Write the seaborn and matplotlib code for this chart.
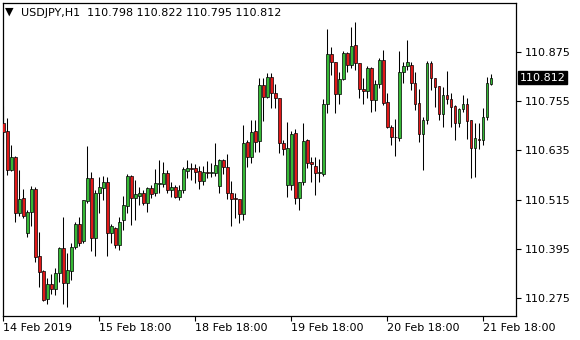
import numpy as np
import pandas as pd
import matplotlib
matplotlib.use("Agg")
import matplotlib.pyplot as plt
import matplotlib.transforms as mtransforms
import seaborn as sns

symbol = "USDJPY,H1"

opens = [110.702, 110.682, 110.587, 110.619, 110.482, 110.519, 110.434, 110.485, 110.541, 110.377,
         110.341, 110.273, 110.309, 110.297, 110.336, 110.397, 110.312, 110.341, 110.399, 110.455,
         110.414, 110.512, 110.568, 110.421, 110.531, 110.543, 110.558, 110.434, 110.446, 110.404,
         110.465, 110.499, 110.573, 110.519, 110.524, 110.531, 110.507, 110.543, 110.531, 110.553,
         110.553, 110.580, 110.538, 110.546, 110.521, 110.538, 110.585, 110.592, 110.592, 110.585,
         110.560, 110.582, 110.580, 110.580, 110.548, 110.612, 110.595, 110.531, 110.519, 110.516,
         110.480, 110.656, 110.619, 110.682, 110.658, 110.795, 110.765, 110.814, 110.775, 110.763,
         110.653, 110.551, 110.551, 110.677, 110.519, 110.558, 110.660, 110.607, 110.597, 110.580,
         110.577, 110.748, 110.870, 110.851, 110.773, 110.809, 110.873, 110.843, 110.892, 110.848,
         110.785, 110.780, 110.836, 110.758, 110.797, 110.856, 110.753, 110.692, 110.668, 110.665,
         110.826, 110.841, 110.843, 110.799, 110.751, 110.675, 110.709, 110.848, 110.812, 110.792,
         110.724, 110.770, 110.760, 110.743, 110.702, 110.736, 110.748, 110.709, 110.641, 110.663,
         110.660, 110.716, 110.798]
highs = [110.743, 110.714, 110.648, 110.621, 110.587, 110.541, 110.490, 110.548, 110.546, 110.436,
         110.343, 110.324, 110.333, 110.348, 110.399, 110.473, 110.385, 110.409, 110.460, 110.473,
         110.514, 110.646, 110.582, 110.538, 110.570, 110.573, 110.570, 110.455, 110.448, 110.473,
         110.524, 110.577, 110.575, 110.563, 110.546, 110.538, 110.546, 110.551, 110.590, 110.612,
         110.607, 110.587, 110.558, 110.551, 110.551, 110.595, 110.612, 110.604, 110.602, 110.597,
         110.597, 110.609, 110.604, 110.653, 110.614, 110.614, 110.626, 110.560, 110.531, 110.516,
         110.697, 110.660, 110.709, 110.709, 110.812, 110.812, 110.824, 110.824, 110.797, 110.763,
         110.660, 110.704, 110.682, 110.687, 110.558, 110.702, 110.663, 110.619, 110.619, 110.614,
         110.760, 110.931, 110.887, 110.851, 110.826, 110.877, 110.875, 110.936, 110.948, 110.848,
         110.812, 110.841, 110.838, 110.807, 110.860, 110.880, 110.775, 110.697, 110.712, 110.877,
         110.851, 110.904, 110.851, 110.826, 110.785, 110.716, 110.853, 110.853, 110.812, 110.792,
         110.790, 110.829, 110.775, 110.746, 110.739, 110.770, 110.763, 110.709, 110.702, 110.702,
         110.739, 110.814, 110.822]
lows = [110.653, 110.575, 110.585, 110.460, 110.475, 110.470, 110.424, 110.451, 110.363, 110.302,
        110.268, 110.260, 110.285, 110.282, 110.314, 110.260, 110.253, 110.319, 110.395, 110.402,
        110.409, 110.507, 110.390, 110.377, 110.482, 110.514, 110.377, 110.409, 110.397, 110.392,
        110.441, 110.482, 110.453, 110.465, 110.502, 110.502, 110.485, 110.519, 110.524, 110.531,
        110.546, 110.531, 110.521, 110.519, 110.514, 110.531, 110.568, 110.563, 110.555, 110.541,
        110.551, 110.568, 110.570, 110.573, 110.531, 110.577, 110.516, 110.451, 110.470, 110.458,
        110.465, 110.595, 110.604, 110.631, 110.631, 110.707, 110.763, 110.739, 110.739, 110.629,
        110.624, 110.521, 110.538, 110.504, 110.490, 110.551, 110.592, 110.558, 110.526, 110.558,
        110.573, 110.726, 110.819, 110.726, 110.748, 110.807, 110.826, 110.836, 110.831, 110.763,
        110.748, 110.763, 110.729, 110.731, 110.787, 110.746, 110.690, 110.648, 110.621, 110.658,
        110.799, 110.831, 110.782, 110.734, 110.656, 110.587, 110.699, 110.782, 110.741, 110.709,
        110.692, 110.748, 110.692, 110.660, 110.692, 110.729, 110.663, 110.568, 110.570, 110.638,
        110.648, 110.709, 110.795]
closes = [110.680, 110.587, 110.619, 110.482, 110.516, 110.475, 110.485, 110.541, 110.375, 110.338,
          110.270, 110.309, 110.297, 110.336, 110.397, 110.312, 110.343, 110.399, 110.455, 110.409,
          110.514, 110.568, 110.421, 110.531, 110.546, 110.558, 110.434, 110.451, 110.404, 110.460,
          110.502, 110.573, 110.519, 110.529, 110.531, 110.507, 110.543, 110.529, 110.555, 110.555,
          110.580, 110.538, 110.546, 110.521, 110.538, 110.590, 110.592, 110.590, 110.582, 110.560,
          110.582, 110.580, 110.582, 110.599, 110.612, 110.595, 110.531, 110.516, 110.516, 110.480,
          110.653, 110.619, 110.680, 110.656, 110.795, 110.765, 110.814, 110.775, 110.763, 110.653,
          110.638, 110.641, 110.675, 110.519, 110.558, 110.658, 110.604, 110.602, 110.580, 110.582,
          110.748, 110.870, 110.851, 110.773, 110.809, 110.873, 110.843, 110.890, 110.848, 110.785,
          110.780, 110.836, 110.758, 110.797, 110.856, 110.751, 110.692, 110.668, 110.667, 110.826,
          110.841, 110.851, 110.799, 110.748, 110.675, 110.709, 110.848, 110.812, 110.790, 110.724,
          110.770, 110.760, 110.741, 110.702, 110.736, 110.748, 110.707, 110.641, 110.665, 110.660,
          110.716, 110.799, 110.812]

ytick_values = [110.275, 110.395, 110.515, 110.635, 110.755, 110.875]
xtick_bars = [0, 24, 48, 72, 96, 120]
xtick_labels = ["14 Feb 2019", "15 Feb 18:00", "18 Feb 18:00", "19 Feb 18:00",
                "20 Feb 18:00", "21 Feb 18:00"]

df = pd.DataFrame({"open": opens, "high": highs, "low": lows, "close": closes})
df["bar"] = np.arange(len(df))
df["up"] = df["close"] >= df["open"]

sns.set_theme(style="white")
plt.rcParams["font.family"] = ["DejaVu Sans"]

W, H = 580, 340
fig = plt.figure(figsize=(W / 100, H / 100), dpi=100)
fig.patch.set_facecolor("white")
ax = fig.add_axes([2.5 / W, 1 - 316 / H, (516 - 2.5) / W, (316 - 3) / H])
ax.set_facecolor("white")

green = "#35b835"
red = "#e01818"

# wicks
ax.vlines(df["bar"], df["low"], df["high"], color="black", linewidth=0.75, zorder=2)
# bodies
bottoms = np.minimum(df["open"], df["close"])
heights = np.abs(df["close"] - df["open"])
colors = [green if u else red for u in df["up"]]
ax.bar(df["bar"], heights, bottom=bottoms, width=0.64, color=colors,
       edgecolor="black", linewidth=0.5, zorder=3)

ax.set_xlim(-0.2, 128.2)
ax.set_ylim(110.2311, 110.9945)

for s in ax.spines.values():
    s.set_color("black")
    s.set_linewidth(0.9)
    s.set_visible(True)

ax.yaxis.tick_right()
ax.set_yticks(ytick_values)
ax.set_yticklabels([f"{v:.3f}" for v in ytick_values])
ax.set_xticks(xtick_bars)
ax.set_xticklabels(xtick_labels, ha="left")
ax.tick_params(axis="both", direction="out", length=3.5, width=0.8, color="black",
               labelsize=8, labelcolor="black")
ax.tick_params(axis="y", pad=2.5, left=False, right=True)
ax.tick_params(axis="x", pad=1.5, bottom=True)
ax.grid(False)

# current price tag
last = closes[-1]
trans = mtransforms.blended_transform_factory(ax.transAxes, ax.transData)
ax.text(1.0 + 3.5 / (516 - 2.5), last, f"{last:.3f}", transform=trans, ha="left", va="center",
        color="white", fontsize=8, clip_on=False,
        bbox=dict(boxstyle="square,pad=0.15", facecolor="black", edgecolor="black"))

# header
fig.text(5 / W, 1 - 12 / H, "\u25BC", fontsize=8, color="black", va="center", ha="left")
fig.text(21 / W, 1 - 12.5 / H,
         f"{symbol}  {opens[-1]:.3f} {highs[-1]:.3f} {lows[-1]:.3f} {closes[-1]:.3f}",
         fontsize=8, color="black", va="center", ha="left")

fig.savefig("out.png", dpi=100, facecolor="white")
